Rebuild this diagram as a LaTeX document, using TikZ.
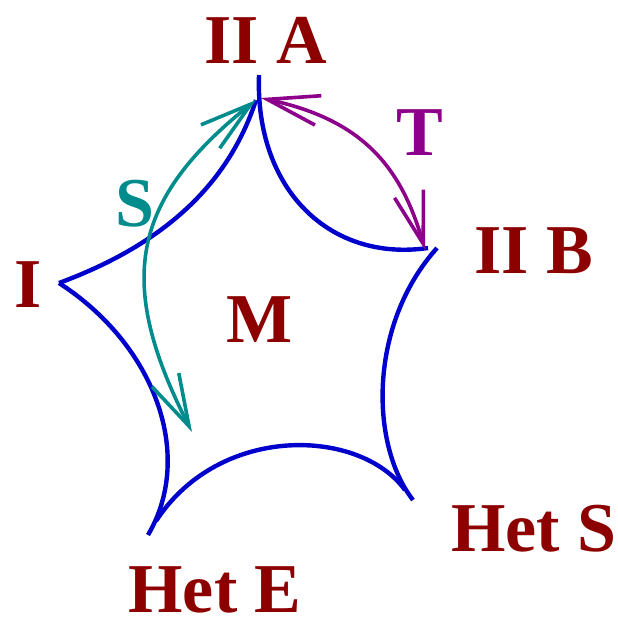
\documentclass[tikz,border=0pt]{standalone}
\usepackage{fontspec}
\setmainfont{Liberation Serif}
\usepackage{tikz}
\usetikzlibrary{arrows.meta}
\usepackage{xcolor}
\definecolor{labred}{RGB}{140,0,0}
\definecolor{edgeblue}{RGB}{0,0,205}
\definecolor{sdual}{RGB}{0,140,140}
\definecolor{tdual}{RGB}{140,0,140}

\begin{document}
\begin{tikzpicture}[
    x=0.5pt, y=-0.5pt,
    lab/.style={text=labred, font=\fontsize{35}{40}\selectfont\bfseries, anchor=base, inner sep=0pt},
    edge/.style={draw=edgeblue, line width=2.2pt},
    duality/.style={line width=1.8pt, {Straight Barb[length=26pt, width=15pt]}-{Straight Barb[length=26pt, width=15pt]}}
  ]
    \useasboundingbox (0,0) rectangle (618,618);

    % vertices of the moduli space
    \coordinate (IIA) at (256,100);
    \coordinate (IIAtop) at (259,75);
    \coordinate (IIB) at (428,248);
    \coordinate (IIBs) at (437,248);
    \coordinate (HetS) at (413,500);
    \coordinate (HetSj) at (405,490);
    \coordinate (HetE) at (148,535);
    \coordinate (HetEj) at (156,521);
    \coordinate (I) at (59,283);

    \node[lab] (lIIA) at (266,63) {II A};
    \node[lab] (lIIB) at (534,273) {II B};
    \node[lab] (lI) at (28,307) {I};
    \node[lab] (lM) at (260,342) {M};
    \node[lab] (lHetS) at (534,551) {Het S};
    \node[lab] (lHetE) at (215,612) {Het E};

    \draw[edge] (I) .. controls (162,245) and (228,186) .. (IIA);
    \draw[edge] (IIAtop) .. controls (255,190) and (330,262) .. (IIB);
    \draw[edge] (IIBs) .. controls (368,325) and (370,445) .. (HetS);
    \draw[edge] (HetSj) .. controls (360,428) and (220,423) .. (HetEj);
    \draw[edge] (I) .. controls (155,345) and (195,455) .. (HetE);

    % dualities
    \coordinate (Stip) at (192,432);
    \coordinate (TtipA) at (261,98);
    \coordinate (TtipB) at (425,250);
    \draw[duality, sdual] (IIA) .. controls (131,200) and (115,281) .. (Stip);
    \draw[duality, tdual] (TtipA) .. controls (358,119) and (400,162) .. (TtipB);

    \node[lab, text=sdual] (lS) at (135,226) {S};
    \node[lab, text=tdual] (lT) at (420,155) {T};
  \end{tikzpicture}
\end{document}
